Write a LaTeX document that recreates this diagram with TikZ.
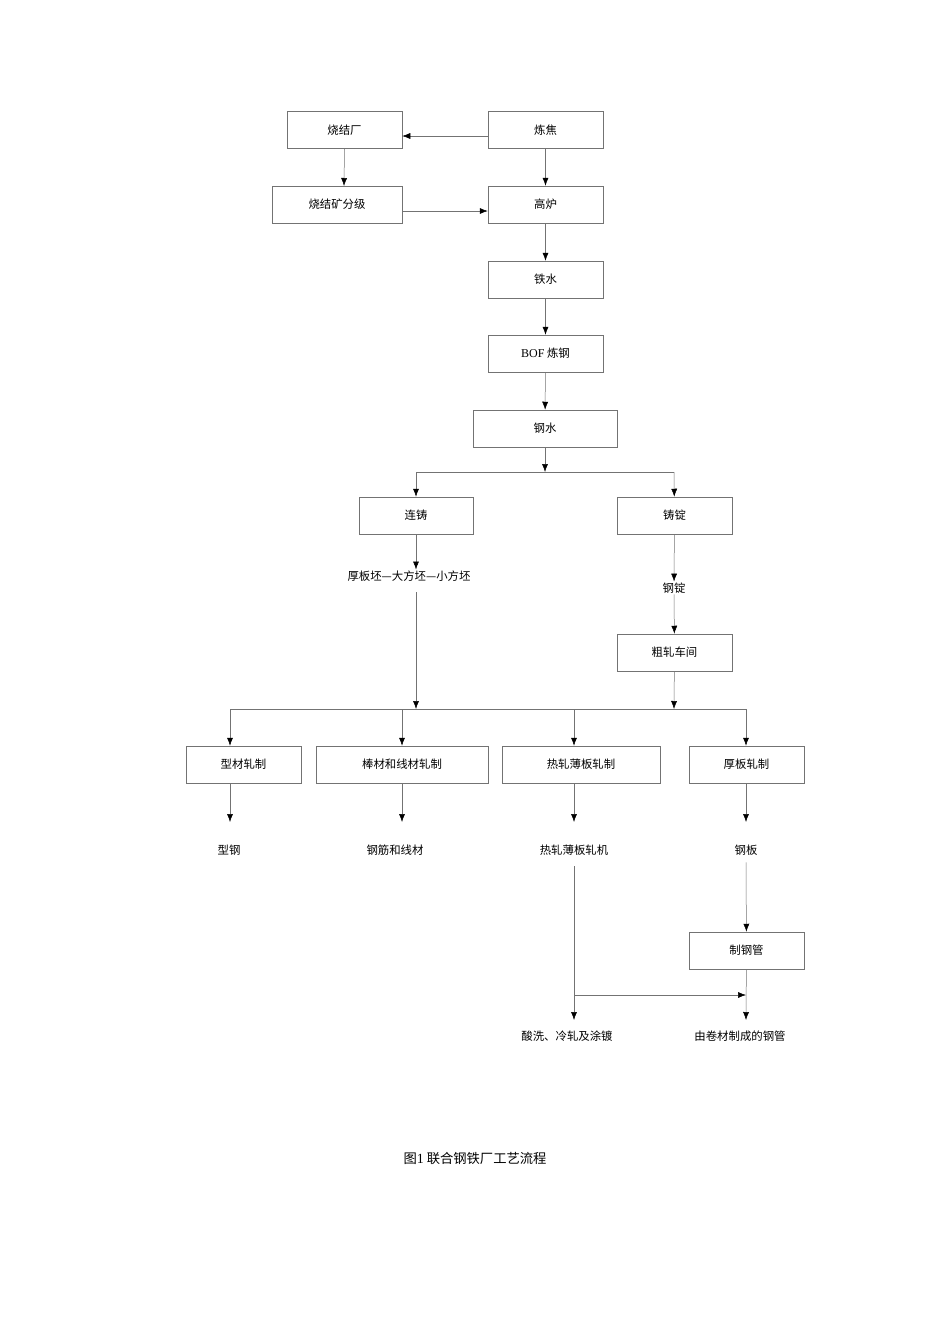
\documentclass[tikz,border=0pt]{standalone}
\usepackage{fontspec}
\setmainfont{Liberation Serif}
\newfontfamily\cjk{Noto Sans CJK SC}[Scale=0.95]
\usetikzlibrary{arrows.meta}
\begin{document}
\begin{tikzpicture}[x=1pt,y=-1pt,
  bx/.style={draw=black!55,line width=0.5pt,minimum height=37pt,inner sep=0pt,font=\fontsize{12}{14}\selectfont\cjk},
  tx/.style={inner sep=1pt,font=\fontsize{12}{14}\selectfont\cjk},
  ar/.style={draw=black!55,line width=0.5pt,-{Latex[length=8pt,width=6pt,black]}},
  ln/.style={draw=black!55,line width=0.5pt}]
\useasboundingbox (0,0) rectangle (950,1344);
\node[bx,minimum width=115pt] (sj) at (344.5,130) {烧结厂};
\node[bx,minimum width=115pt] (lj) at (545.5,130) {炼焦};
\node[bx,minimum width=130pt] (fj) at (337,204.5) {烧结矿分级};
\node[bx,minimum width=115pt] (gl) at (545.5,204.5) {高炉};
\node[bx,minimum width=115pt] (ts) at (545.5,279.5) {铁水};
\node[bx,minimum width=115pt] (bof) at (545.5,353.5) {{\rmfamily BOF} 炼钢};
\node[bx,minimum width=144pt] (gs) at (545,428.5) {钢水};
\node[bx,minimum width=114pt] (lz) at (416,515.5) {连铸};
\node[bx,minimum width=115pt] (zd) at (674.5,515.5) {铸锭};
\node[tx] (hb) at (409,576) {厚板坯—大方坯—小方坯};
\node[tx] (gd) at (674,588) {钢锭};
\node[bx,minimum width=115pt] (cz) at (674.5,652.5) {粗轧车间};
\node[bx,minimum width=115pt] (xc) at (243.5,764.5) {型材轧制};
\node[bx,minimum width=172pt] (bc) at (402,764.5) {棒材和线材轧制};
\node[bx,minimum width=158pt] (rz) at (581,764.5) {热轧薄板轧制};
\node[bx,minimum width=115pt] (hz) at (746.5,764.5) {厚板轧制};
\node[tx] (xg) at (229,850) {型钢};
\node[tx] (gj) at (395,850) {钢筋和线材};
\node[tx] (rj) at (574,850) {热轧薄板轧机};
\node[tx] (gb) at (746,850) {钢板};
\node[bx,minimum width=115pt] (zg) at (746.5,950.5) {制钢管};
\node[tx] (sx) at (567,1036) {酸洗、冷轧及涂镀};
\node[tx] (jc) at (740,1036) {由卷材制成的钢管};
\node[tx,font=\fontsize{14}{16}\selectfont\cjk] (cap) at (475,1158) {图{\rmfamily 1} 联合钢铁厂工艺流程};
\coordinate (c1) at (545,472); \coordinate (c2) at (416,709); \coordinate (c3) at (674,709);
\coordinate (c4) at (574,995);
\draw[ar] (lj.west|-0,136) -- (sj.east|-0,136);
\draw[ar] (fj.east|-0,211) -- (gl.west|-0,211);
\draw[ar] (sj.south) -- (344,186);
\draw[ar] (lj) -- (gl); \draw[ar] (gl) -- (ts); \draw[ar] (ts) -- (bof); \draw[ar] (bof) -- (gs);
\draw[ar] (gs) -- (c1);
\draw[ln] (416,472) -- (674,472);
\draw[ar] (416,472) -- (lz); \draw[ar] (674,472) -- (zd);
\draw[ar] (lz) -- (hb.north-|lz);
\draw[ar] (zd) -- (gd);
\draw[ar] (gd) -- (cz);
\draw[ar] (hb.south-|lz) ++(0,10) -- (c2);
\draw[ar] (cz) -- (c3);
\draw[ln] (230,709) -- (746,709);
\foreach \x/\n in {230/xc,402/bc,574/rz,746/hz} \draw[ar] (\x,709) -- (\n.north-|\x,0);
\foreach \x/\n in {230/xc,402/bc,574/rz,746/hz} \draw[ar] (\n.south-|\x,0) -- (\x,822);
\draw[ar] (gb.south) ++(0,6) -- (zg);
\draw[ar] (zg) -- (746,1020);
\draw[ar] (rj.south-|574,0) ++(0,10) -- (574,1020);
\draw[ar] (c4) -- (746,995);
\end{tikzpicture}
\end{document}
